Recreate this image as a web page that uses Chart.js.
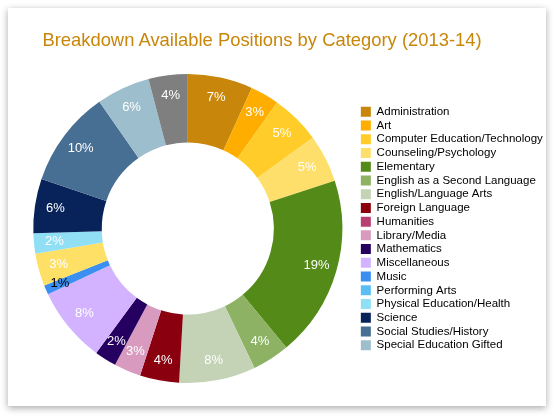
<!DOCTYPE html>
<html>
<head>
<meta charset="utf-8">
<script src="https://cdn.jsdelivr.net/npm/chart.js@4/dist/chart.umd.min.js"></script>
<style>
  html, body { margin: 0; padding: 0; background: #ffffff; }
  #card {
    position: absolute; left: 8px; top: 8px; width: 538px; height: 398px;
    background: #ffffff; box-shadow: 0 2px 7px rgba(0,0,0,0.35);
  }
  #title {
    position: absolute; left: 0; top: 21px; width: 508px; height: 22px; line-height: 22px;
    text-align: center; color: #C8860A; white-space: nowrap;
    font-family: "Liberation Sans", Arial, sans-serif; font-size: 18.4px;
  }
  #chart { display: block; position: absolute; left: 0; top: 0; }
</style>
</head>
<body>
<div id="card">
  <canvas id="chart" width="538" height="398"></canvas>
  <div id="title">Breakdown Available Positions by Category (2013-14)</div>
</div>
<script>
// categories in chart order (clockwise from 12 o'clock)
const categories = [
  'Administration', 'Art', 'Computer Education/Technology', 'Counseling/Psychology',
  'Elementary', 'English as a Second Language', 'English/Language Arts', 'Foreign Language',
  'Humanities', 'Library/Media', 'Mathematics', 'Miscellaneous', 'Music',
  'Performing Arts', 'Physical Education/Health', 'Science', 'Social Studies/History',
  'Special Education Gifted', 'Special Education'
];
// share of available positions, percent
const shares = [6.8, 3.0, 5.2, 5.0, 19.0, 3.9, 8.0, 4.1, 0, 2.8, 2.3, 7.9, 1.0, 3.4, 2.1, 5.7, 10.1, 5.6, 4.1];

const sliceColors = [
  '#C8860A', '#FFAE00', '#FFCC29', '#FFDF6B', '#548A17', '#8DB264', '#C4D3B5', '#8B000E',
  '#B84070', '#D89ABE', '#250060', '#D3B3FF', '#3A8FF0', '#FFE066', '#90DFF5', '#07235A',
  '#476E93', '#9DBECC', '#7F7F7F'
];
const legendColors = [
  '#C8860A', '#FFAE00', '#FFCC29', '#FFDF6B', '#548A17', '#8DB264', '#C4D3B5', '#8B000E',
  '#B84070', '#D89ABE', '#250060', '#D3B3FF', '#3A8FF0', '#5ABEF5', '#90DFF5', '#07235A',
  '#476E93', '#9DBECC', '#7F7F7F'
];
const legendCount = 18; // last category is cut off in the original legend

// percent labels inside the ring
const ringLabels = {
  id: 'ringLabels',
  afterDatasetsDraw(chart) {
    const ctx = chart.ctx;
    const data = chart.data.datasets[0].data;
    const total = data.reduce((s, v) => s + v, 0);
    const meta = chart.getDatasetMeta(0);
    ctx.save();
    ctx.font = '13px "Liberation Sans", Arial, sans-serif';
    ctx.textAlign = 'center';
    ctx.textBaseline = 'middle';
    meta.data.forEach((arc, i) => {
      const v = data[i];
      if (!v) return;
      const p = arc.getProps(['x', 'y', 'startAngle', 'endAngle', 'innerRadius', 'outerRadius'], true);
      const mid = (p.startAngle + p.endAngle) / 2;
      const pct = Math.round(v / total * 100);
      const small = pct <= 1;
      const r = p.innerRadius + (small ? 0.78 : 0.7) * (p.outerRadius - p.innerRadius);
      ctx.fillStyle = small ? '#000000' : '#ffffff';
      ctx.fillText(pct + '%', p.x + Math.cos(mid) * r, p.y + Math.sin(mid) * r);
    });
    ctx.restore();
  }
};

const ctx = document.getElementById('chart').getContext('2d');
new Chart(ctx, {
  type: 'doughnut',
  data: {
    labels: categories,
    datasets: [{
      data: shares,
      backgroundColor: sliceColors,
      borderWidth: 0
    }]
  },
  options: {
    responsive: false,
    animation: false,
    cutout: '55.7%',
    layout: { padding: { left: 9, right: -6.8, top: 66, bottom: 23 } },
    plugins: {
      title: { display: false },
      legend: {
        position: 'right',
        fullSize: false,
        labels: {
          boxWidth: 10,
          boxHeight: 10,
          padding: 2.24,
          color: '#000000',
          font: { family: '"Liberation Sans", Arial, sans-serif', size: 11.5 },
          generateLabels(chart) {
            const items = Chart.overrides.doughnut.plugins.legend.labels.generateLabels(chart);
            return items.slice(0, legendCount).map((it, i) => Object.assign(it, {
              fillStyle: legendColors[i], strokeStyle: legendColors[i], lineWidth: 0, hidden: false
            }));
          }
        },
        onClick: () => {}
      },
      tooltip: { enabled: false }
    }
  },
  plugins: [ringLabels]
});
</script>
</body>
</html>
